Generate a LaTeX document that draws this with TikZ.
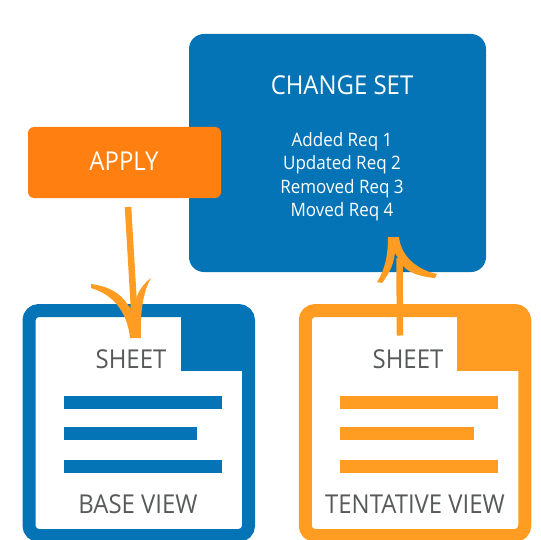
\documentclass[tikz,border=0pt]{standalone}
\usepackage{fontspec}
\setmainfont[FakeStretch=0.92]{Open Sans}
\usepackage{xcolor}
\usetikzlibrary{positioning}
\definecolor{csblue}{HTML}{0474B6}
\definecolor{csorange}{HTML}{FF7F11}
\definecolor{csamber}{HTML}{FF9C21}
\definecolor{csgray}{HTML}{58595B}
\tikzset{
    panel/.style={rectangle, rounded corners=#1, outer sep=0pt, inner sep=0pt},
    sheetbox/.style={rectangle, rounded corners=10pt, draw=#1, line width=13pt,
        fill=white, outer sep=0pt, minimum width=219.5pt, minimum height=225pt},
    foldbox/.style={rectangle, fill=#1, outer sep=0pt, inner sep=0pt,
        minimum width=67.5pt, minimum height=60.5pt},
    barbox/.style={rectangle, fill=#1, outer sep=0pt, inner sep=0pt, minimum height=13pt},
    sheetlabel/.style={font=\fontsize{26}{26}\selectfont, color=csgray, inner sep=0pt},
    whitelabel/.style={font=\fontsize{#1}{#1}\selectfont, color=white, inner sep=0pt},
    flowstem/.style={line width=6.5pt, color=csamber},
}

\begin{document}
\begin{tikzpicture}[x=1pt, y=-1pt]

    \clip (0,0) rectangle (540,540);
    \fill[white] (0,0) rectangle (540,540);

    % ── Change set ─────────────────────────────────────────────────────────
    \node[panel=15pt, fill=csblue, minimum width=297pt, minimum height=238pt] (changeset)
        at (337.5,153) {};
    \node[whitelabel=26] (settitle) at (342,85) {CHANGE SET};
    \node[whitelabel=18.5, align=center, font=\fontsize{18.5}{23.5}\selectfont] (setitems) at (342,176.5)
        {Added Req 1\\Updated Req 2\\Removed Req 3\\Moved Req 4};

    % ── Apply ──────────────────────────────────────────────────────────────
    \node[panel=6pt, fill=csorange, minimum width=193pt, minimum height=71pt] (applybox)
        at (124.5,162.5) {};
    \node[whitelabel=26] (applytext) at (124,161) {APPLY};

    % ── Base view ──────────────────────────────────────────────────────────
    \node[sheetbox=csblue] (basesheet) at (138.75,423) {};
    \node[foldbox=csblue, anchor=north east] (basefold) at (basesheet.north east) {};
    \node[sheetlabel] (basetitle) at (131,359.5) {SHEET};
    \node[barbox=csblue, minimum width=158pt, anchor=west] (basebar1) at (64,402.5) {};
    \node[barbox=csblue, minimum width=133pt, below=18pt of basebar1.south west, anchor=north west] (basebar2) {};
    \node[barbox=csblue, minimum width=158pt, below=20pt of basebar2.south west, anchor=north west] (basebar3) {};
    \node[sheetlabel] (basename) at (138,504.5) {BASE VIEW};

    % ── Tentative view ─────────────────────────────────────────────────────
    \node[sheetbox=csamber] (tentsheet) at (415,423) {};
    \node[foldbox=csamber, anchor=north east] (tentfold) at (tentsheet.north east) {};
    \node[sheetlabel] (tenttitle) at (408,359.5) {SHEET};
    \node[barbox=csamber, minimum width=158pt, anchor=west] (tentbar1) at (340,402.5) {};
    \node[barbox=csamber, minimum width=134pt, below=18pt of tentbar1.south west, anchor=north west] (tentbar2) {};
    \node[barbox=csamber, minimum width=158pt, below=20pt of tentbar2.south west, anchor=north west] (tentbar3) {};
    \node[sheetlabel] (tentname) at (415,504.5) {TENTATIVE VIEW};

    % ── Arrows ─────────────────────────────────────────────────────────────
    \draw[flowstem] ([xshift=3.5pt,yshift=-9pt]applybox.south) -- ([xshift=-3pt,yshift=-27pt]basesheet.north);
    \fill[csamber] (91,284) .. controls (107,286) and (120,292) .. (128,305) -- (135,313)
        .. controls (134,300) and (138,288) .. (151,278)
        .. controls (143,292) and (140,312) .. (141,338) -- (130,338)
        .. controls (128,318) and (118,296) .. (91,288) -- cycle;

    \draw[flowstem] ([xshift=-15pt,yshift=-25pt]tentsheet.north) -- ([xshift=62pt,yshift=14pt]changeset.south);
    \fill[csamber] (388,237) -- (399,237) .. controls (400,250) and (410,268) .. (437,274)
        -- (435,278) .. controls (420,277) and (408,272) .. (403,266) -- (395,253)
        .. controls (393,268) and (387,276) .. (382,283) -- (377,282)
        .. controls (385,270) and (388,255) .. (388,237) -- cycle;

\end{tikzpicture}
\end{document}
